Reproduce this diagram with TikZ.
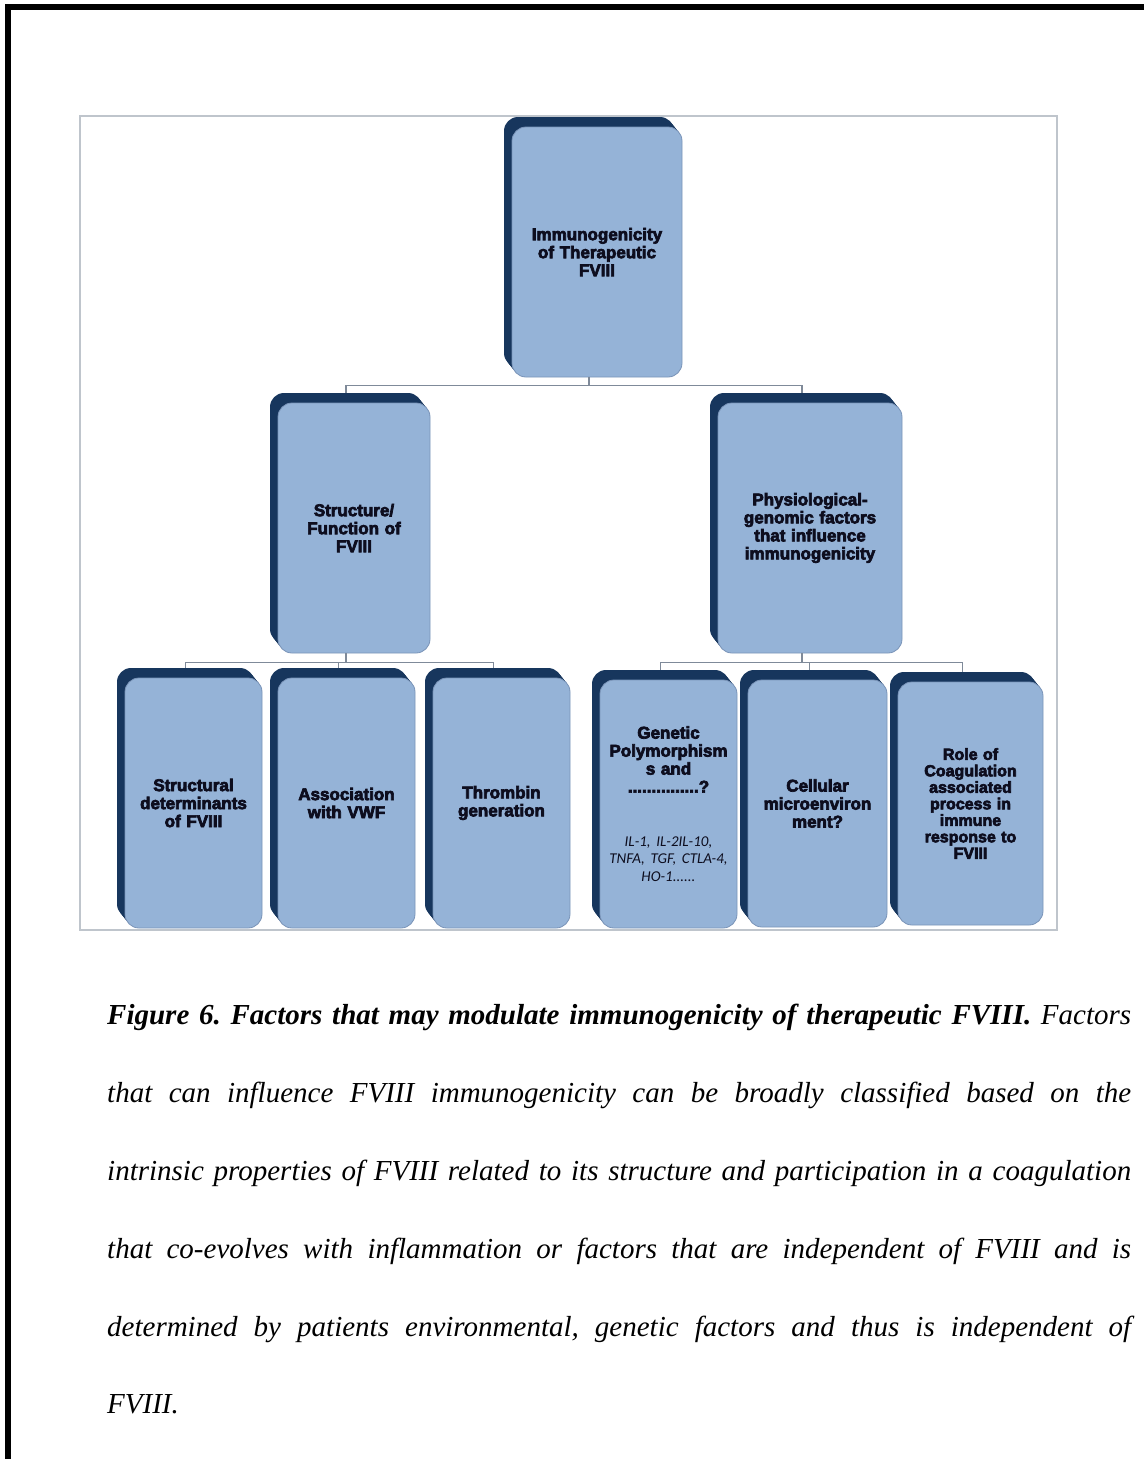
\documentclass[tikz,border=0pt]{standalone}
\usepackage{fontspec}
\setmainfont{Liberation Serif}
\newfontfamily\boxfont{Liberation Sans}[FakeBold=4,BoldFeatures={FakeBold=4}]
\newfontfamily\listfont{Carlito}
\usetikzlibrary{shadows,calc}
\definecolor{boxfill}{HTML}{95B3D7}
\definecolor{boxshadow}{HTML}{17365D}
\definecolor{boxline}{HTML}{7A94B8}
\definecolor{connc}{HTML}{7F8A99}
\definecolor{framec}{HTML}{BFC5CC}
\definecolor{txtc}{HTML}{0D0D1E}
\begin{document}
\frenchspacing
\begin{tikzpicture}[x=1pt,y=-1pt,
  extr/.style={
    general shadow={fill=boxshadow,draw=none,shadow xshift=-8pt,shadow yshift=10pt},
    general shadow={fill=boxshadow,draw=none,shadow xshift=-6.67pt,shadow yshift=8.33pt},
    general shadow={fill=boxshadow,draw=none,shadow xshift=-5.33pt,shadow yshift=6.67pt},
    general shadow={fill=boxshadow,draw=none,shadow xshift=-4pt,shadow yshift=5pt},
    general shadow={fill=boxshadow,draw=none,shadow xshift=-2.67pt,shadow yshift=3.33pt},
    general shadow={fill=boxshadow,draw=none,shadow xshift=-1.33pt,shadow yshift=1.67pt}},
  card/.style={extr, rounded corners=14pt, fill=boxfill, draw=boxline, line width=0.8pt,
    inner sep=3pt, align=center, text=txtc,
    font=\boxfont\bfseries\fontsize{17}{18}\selectfont},
  conn/.style={draw=connc, line width=1.5pt},
  capl/.style={anchor=base west, inner sep=0pt, font=\fontsize{29}{35}\selectfont\itshape}
]
\useasboundingbox (0,0) rectangle (1144,1459);
% outer page rule
\draw[line width=6pt, miter limit=10] (8,1459) -- (8,7) -- (1144,7);
% inner frame
\draw[framec, line width=2pt] (80,116) rectangle (1057,930);

% level 1
\node[card, minimum width=170pt, minimum height=250pt, text width=164pt] (top) at (597,252)
  {Immunogenicity\\of Therapeutic\\FVIII};
% level 2
\node[card, minimum width=152pt, minimum height=250pt, text width=146pt] (sf) at (354,528)
  {Structure/\\Function of\\FVIII};
\node[card, minimum width=184pt, minimum height=250pt, text width=178pt] (pg) at (810,528)
  {Physiological-\\genomic factors\\that influence\\immunogenicity};
% level 3 left
\node[card, minimum width=137pt, minimum height=250pt, text width=131pt] (b1) at (193.5,803)
  {Structural\\determinants\\of FVIII};
\node[card, minimum width=137pt, minimum height=250pt, text width=131pt] (b2) at (346.5,803)
  {Association\\with VWF};
\node[card, minimum width=137pt, minimum height=250pt, text width=131pt] (b3) at (501.5,803)
  {Thrombin\\generation};
% level 3 right
\node[card, minimum width=137pt, minimum height=248pt, text width=133pt, inner sep=2pt] (b4) at (668.5,804)
  {Genetic\\Polymorphism\\s and\\...............?\\[36pt]\listfont\mdseries\itshape\fontsize{15}{17.5}\selectfont IL-1, IL-2IL-10,\\TNFA, TGF, CTLA-4,\\HO-1......};
\node[card, minimum width=139pt, minimum height=247pt, text width=133pt] (b5) at (817.5,803.5)
  {Cellular\\microenviron\\ment?};
\node[card, minimum width=145pt, minimum height=243pt, text width=139pt,
  font=\boxfont\bfseries\fontsize{16}{16.5}\selectfont] (b6) at (970.5,803.5)
  {Role of\\Coagulation\\associated\\process in\\immune\\response to\\FVIII};

% connectors
\draw[conn] ($(top.south)+(-8,0)$) -- ++(0,8) coordinate (j0);
\draw[conn] ($(sf.north)+(-8,-10)$) |- (j0) -| ($(pg.north)+(-8,-10)$);
\draw[conn] ($(sf.south)+(-8,0)$) -- ++(0,9) coordinate (j1);
\draw[conn] ($(b1.north)+(-8,-10)$) |- (j1) -| ($(b3.north)+(-8,-10)$);
\draw[conn] ($(b2.north)+(-8,-10)$) |- (j1);
\draw[conn] ($(pg.south)+(-8,0)$) -- ++(0,9) coordinate (j2);
\draw[conn] ($(b4.north)+(-8,-10)$) |- (j2) -| ($(b6.north)+(-8,-10)$);
\draw[conn] ($(b5.north)+(-8,-10)$) |- (j2);

% caption
\node[capl] (c1) at (107,1024) {\makebox[1024pt][s]{\bfseries Figure 6. Factors that may modulate immunogenicity of therapeutic FVIII. \mdseries Factors}};
\node[capl] (c2) at (107,1102) {\makebox[1024pt][s]{that can influence FVIII immunogenicity can be broadly classified based on the}};
\node[capl] (c3) at (107,1180) {\makebox[1024pt][s]{intrinsic properties of FVIII related to its structure and participation in a coagulation}};
\node[capl] (c4) at (107,1258) {\makebox[1024pt][s]{that co-evolves with inflammation or factors that are independent of FVIII and is}};
\node[capl] (c5) at (107,1336) {\makebox[1024pt][s]{determined by patients environmental, genetic factors and thus is independent of}};
\node[capl] (c6) at (107,1413) {FVIII.};
\end{tikzpicture}
\end{document}
